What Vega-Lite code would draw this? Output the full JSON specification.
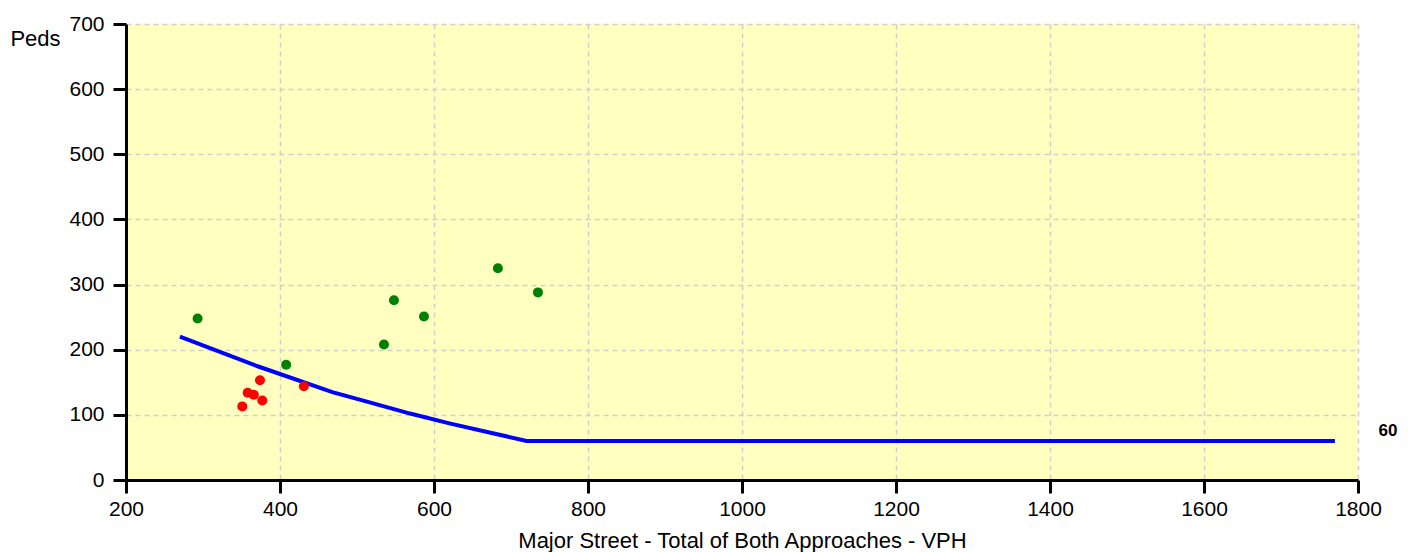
{
  "$schema": "https://vega.github.io/schema/vega-lite/v6.json",
  "width": 1232,
  "height": 456,
  "autosize": {"type": "none"},
  "padding": {"left": 126, "top": 24, "right": 58, "bottom": 72},
  "background": "white",
  "view": {"fill": "#FFFFC0", "stroke": null},
  "config": {
    "font": "Liberation Sans",
    "axis": {
      "domainColor": "black",
      "domainWidth": 3,
      "tickColor": "black",
      "tickWidth": 3,
      "tickSize": 13,
      "labelColor": "black",
      "labelFontSize": 21,
      "labelFont": "Liberation Sans",
      "labelFlush": false,
      "labelOverlap": false,
      "format": "d",
      "titleFont": "Liberation Sans",
      "titleFontWeight": "normal",
      "titleFontSize": 22,
      "titleColor": "black",
      "gridColor": "#cfcfcf",
      "gridDash": [5, 4],
      "gridWidth": 1.5
    }
  },
  "datasets": {
    "curve": [
      {"vph": 270, "peds": 220},
      {"vph": 370, "peds": 175},
      {"vph": 468, "peds": 135},
      {"vph": 520, "peds": 118},
      {"vph": 569, "peds": 102},
      {"vph": 620, "peds": 87},
      {"vph": 672, "peds": 73},
      {"vph": 720, "peds": 60},
      {"vph": 1770, "peds": 60}
    ],
    "obs": [
      {"vph": 293, "peds": 248, "met": "yes"},
      {"vph": 408, "peds": 177, "met": "yes"},
      {"vph": 535, "peds": 208, "met": "yes"},
      {"vph": 548, "peds": 276, "met": "yes"},
      {"vph": 587, "peds": 251, "met": "yes"},
      {"vph": 683, "peds": 325, "met": "yes"},
      {"vph": 735, "peds": 288, "met": "yes"},
      {"vph": 351, "peds": 113, "met": "no"},
      {"vph": 358, "peds": 134, "met": "no"},
      {"vph": 366, "peds": 131, "met": "no"},
      {"vph": 374, "peds": 153, "met": "no"},
      {"vph": 377, "peds": 122, "met": "no"},
      {"vph": 431, "peds": 144, "met": "no"}
    ],
    "lbl": [{"vph": 1770, "peds": 60, "text": "60"}]
  },
  "encoding": {
    "x": {
      "field": "vph", "type": "quantitative",
      "scale": {"domain": [200, 1800], "nice": false, "zero": false},
      "axis": {
        "values": [200, 400, 600, 800, 1000, 1200, 1400, 1600, 1800],
        "format": "d",
        "title": "Major Street - Total of Both Approaches - VPH",
        "labelPadding": 5,
        "titlePadding": 11
      }
    },
    "y": {
      "field": "peds", "type": "quantitative",
      "scale": {"domain": [0, 700], "nice": false},
      "axis": {
        "values": [0, 100, 200, 300, 400, 500, 600, 700],
        "format": "d",
        "title": "Peds",
        "titleAngle": 0,
        "titleAlign": "center",
        "titleBaseline": "middle",
        "titleX": -91,
        "titleY": 14,
        "labelPadding": 9
      }
    }
  },
  "layer": [
    {
      "data": {"name": "curve"},
      "mark": {"type": "line", "color": "#0000FF", "strokeWidth": 4},
      "encoding": {}
    },
    {
      "data": {"name": "obs"},
      "mark": {"type": "circle", "size": 100, "opacity": 1},
      "encoding": {
        "color": {
          "field": "met", "type": "nominal",
          "scale": {"domain": ["yes", "no"], "range": ["#008000", "#FF0000"]},
          "legend": null
        }
      }
    },
    {
      "data": {"name": "lbl"},
      "mark": {"type": "text", "fontSize": 17, "fontWeight": "bold", "dx": 53, "dy": -10, "align": "center", "baseline": "middle", "clip": false, "color": "black"},
      "encoding": {"text": {"field": "text"}}
    }
  ]
}
